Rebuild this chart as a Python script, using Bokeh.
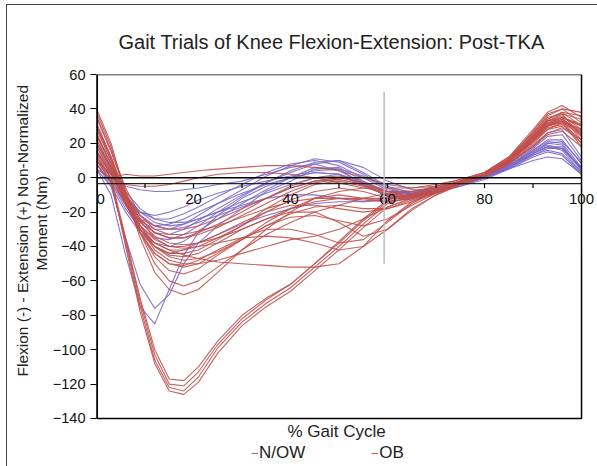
from bokeh.plotting import figure
from bokeh.models import (Range1d, Title, Legend, LegendItem, FixedTicker, ColumnDataSource)
from bokeh.embed import file_html
from bokeh.resources import INLINE

# ---------------- data ----------------
gait_pct = [0, 3, 6, 9, 12, 15, 18, 21, 25, 30, 35, 40, 45, 50, 55, 60, 65, 70, 75, 80, 85, 90, 93, 96, 100]

# N/OW trials (moment, Nm)
nw_01 = [5, -10, -45, -75, -85, -65, -45, -32, -22, -12, -5, 0, 3, 2, -5, -10, -8, -6, -3, 1, 6, 14, 18, 17, 5]
nw_02 = [8, -5, -35, -62, -76, -68, -50, -38, -28, -18, -8, -2, 5, 6, -2, -10, -9, -6, -3, 1, 7, 15, 20, 19, 4]
nw_03 = [10, 0, -5, -7, -8, -8, -7, -6, -4, -2, 2, 6, 8, 4, -3, -8, -9, -7, -4, 0, 5, 10, 12, 11, 2]
nw_04 = [15, 2, -12, -20, -24, -24, -21, -17, -11, -4, 3, 8, 10, 7, 0, -7, -9, -7, -4, 0, 6, 13, 16, 14, 3]
nw_05 = [12, 0, -15, -25, -30, -30, -27, -22, -15, -7, 1, 7, 11, 9, 2, -6, -10, -8, -5, 0, 5, 12, 15, 13, 2]
nw_06 = [20, 5, -15, -28, -35, -36, -33, -28, -20, -11, -3, 4, 9, 10, 3, -5, -9, -8, -4, 0, 6, 15, 19, 17, 5]
nw_07 = [8, -3, -18, -30, -38, -40, -37, -31, -24, -15, -7, 0, 6, 5, -4, -11, -11, -8, -4, 0, 6, 14, 18, 16, 3]
nw_08 = [25, 8, -10, -22, -28, -30, -29, -26, -22, -17, -12, -6, -2, -1, -4, -8, -9, -7, -3, 1, 7, 16, 22, 22, 8]
nw_09 = [5, -5, -20, -32, -40, -44, -42, -38, -33, -27, -22, -18, -15, -14, -14, -12, -10, -7, -3, 1, 7, 17, 24, 25, 10]
nw_10 = [18, 3, -12, -20, -22, -20, -17, -13, -9, -5, -2, 1, 4, 5, 1, -6, -8, -6, -3, 1, 7, 16, 21, 20, 6]
nw_11 = [10, -2, -16, -26, -32, -33, -30, -25, -18, -10, -3, 3, 8, 10, 6, -2, -7, -7, -4, 0, 6, 14, 18, 18, 5]
nw_12 = [22, 6, -10, -20, -26, -28, -27, -24, -20, -14, -9, -4, 0, 2, -2, -8, -10, -7, -4, 0, 6, 15, 20, 21, 9]
nw_13 = [15, 2, -14, -24, -28, -27, -24, -20, -15, -9, -4, 0, 3, 2, -4, -11, -13, -9, -5, -1, 5, 13, 17, 17, 6]
nw_14 = [30, 10, -8, -18, -24, -26, -26, -24, -20, -16, -12, -10, -10, -12, -14, -13, -10, -7, -3, 1, 8, 18, 26, 28, 12]

# OB trials (moment, Nm)
ob_01 = [12, 0, -35, -70, -100, -117, -118, -110, -95, -80, -70, -62, -50, -38, -25, -14, -10, -6, -2, 2, 10, 22, 30, 32, 18]
ob_02 = [10, -2, -38, -75, -106, -122, -124, -116, -99, -84, -73, -64, -52, -40, -27, -15, -11, -7, -2, 2, 10, 24, 33, 35, 22]
ob_03 = [14, 0, -40, -78, -108, -124, -126, -119, -102, -86, -75, -66, -54, -42, -29, -17, -12, -7, -2, 3, 12, 26, 35, 37, 24]
ob_04 = [8, -3, -36, -72, -103, -120, -121, -113, -97, -82, -71, -62, -50, -37, -24, -13, -9, -5, -1, 3, 11, 23, 31, 33, 20]
ob_05 = [5, 0, 2, 1, 1, 2, 3, 4, 5, 6, 7, 7, 6, 4, 0, -4, -6, -5, -3, 1, 8, 20, 28, 32, 25]
ob_06 = [10, 2, -4, -5, -5, -4, -2, 0, 2, 3, 3, 2, 0, -3, -6, -8, -8, -6, -3, 1, 9, 22, 30, 33, 28]
ob_07 = [20, 5, -15, -30, -38, -42, -45, -47, -49, -50, -51, -52, -52, -50, -40, -25, -14, -8, -3, 2, 10, 25, 34, 38, 30]
ob_08 = [40, 20, -10, -35, -55, -65, -68, -65, -55, -42, -30, -20, -12, -8, -6, -6, -6, -4, -1, 3, 12, 28, 38, 42, 35]
ob_09 = [38, 18, -8, -32, -50, -60, -63, -60, -52, -42, -33, -26, -20, -16, -12, -9, -8, -5, -2, 2, 11, 27, 37, 40, 32]
ob_10 = [30, 12, -12, -32, -46, -54, -56, -53, -45, -36, -28, -23, -22, -25, -28, -24, -16, -9, -3, 2, 10, 24, 32, 35, 30]
ob_11 = [25, 8, -15, -32, -44, -50, -51, -48, -42, -35, -30, -30, -33, -38, -36, -26, -15, -8, -3, 2, 10, 23, 31, 34, 26]
ob_12 = [20, 6, -14, -30, -40, -45, -46, -44, -38, -30, -24, -20, -20, -26, -34, -30, -19, -10, -4, 1, 9, 22, 30, 33, 24]
ob_13 = [28, 10, -12, -28, -38, -42, -42, -40, -35, -28, -20, -13, -8, -6, -8, -12, -12, -8, -3, 2, 10, 24, 33, 36, 28]
ob_14 = [35, 15, -8, -25, -35, -40, -41, -40, -38, -35, -34, -35, -38, -42, -40, -30, -18, -10, -4, 1, 9, 21, 29, 31, 22]
ob_15 = [22, 6, -12, -24, -32, -35, -35, -33, -29, -22, -15, -8, -3, -1, -4, -10, -12, -9, -4, 1, 9, 21, 28, 30, 20]
ob_16 = [18, 4, -12, -22, -28, -30, -30, -28, -24, -18, -12, -6, -2, 0, -3, -8, -11, -8, -4, 1, 8, 18, 25, 27, 18]
ob_17 = [32, 12, -10, -28, -40, -46, -48, -47, -43, -36, -28, -21, -17, -16, -18, -18, -14, -9, -4, 1, 9, 22, 31, 34, 27]
ob_18 = [15, 2, -14, -26, -34, -38, -39, -38, -35, -30, -24, -18, -14, -12, -12, -12, -10, -7, -3, 2, 10, 24, 33, 37, 34]
ob_19 = [26, 8, -14, -32, -44, -50, -52, -50, -44, -36, -26, -18, -12, -10, -12, -14, -12, -8, -3, 2, 11, 26, 36, 40, 38]
ob_20 = [12, 0, -16, -30, -40, -44, -44, -42, -36, -28, -18, -10, -4, -2, -5, -10, -11, -8, -4, 1, 8, 19, 26, 29, 22]
ob_21 = [36, 16, -6, -22, -30, -33, -33, -31, -28, -23, -18, -14, -12, -12, -13, -14, -12, -8, -4, 1, 9, 21, 30, 33, 26]
ob_22 = [24, 8, -10, -24, -32, -35, -35, -32, -27, -20, -12, -5, 0, 1, -3, -9, -11, -8, -4, 1, 9, 22, 31, 35, 30]
ob_23 = [30, 12, -12, -30, -42, -48, -50, -50, -48, -44, -40, -36, -34, -30, -24, -17, -12, -8, -3, 2, 10, 25, 34, 38, 36]
ob_24 = [16, 3, -15, -28, -36, -40, -40, -38, -33, -26, -20, -16, -16, -18, -20, -18, -13, -8, -3, 2, 10, 23, 32, 35, 31]

nw_trials = [nw_01, nw_02, nw_03, nw_04, nw_05, nw_06, nw_07, nw_08, nw_09, nw_10, nw_11, nw_12, nw_13, nw_14]
ob_trials = [ob_01, ob_02, ob_03, ob_04, ob_05, ob_06, ob_07, ob_08, ob_09, ob_10, ob_11, ob_12,
             ob_13, ob_14, ob_15, ob_16, ob_17, ob_18, ob_19, ob_20, ob_21, ob_22, ob_23, ob_24]

y_ticks = [-140, -120, -100, -80, -60, -40, -20, 0, 20, 40, 60]
x_tick_labels = [0, 20, 40, 60, 80, 100]
x_minor_ticks = [10, 20, 30, 40, 50, 60, 70, 80, 90]
stance_mark = 59.3
series_names = ["N/OW", "OB"]

# ---------------- styles ----------------
FONT = "Liberation Sans"
NW_COLOR = "#7B68C6"
OB_COLOR = "#C0504D"
TXT = "#222222"
X0, X1 = x_tick_labels[0], x_tick_labels[-1]
Y0, Y1 = y_ticks[0], y_ticks[-1]

# the frame runs to the right and bottom edges so that end labels, axis title and legend fit in it
p = figure(width=591, height=462, output_backend="svg", toolbar_location=None,
           x_range=Range1d(0, 103.5), y_range=Range1d(-168.5, 60),
           min_border_left=89, min_border_right=0, min_border_top=69, min_border_bottom=0,
           margin=(4, 0, 0, 6))
p.styles = {"border-left": "1.5px solid #444444", "border-top": "1.5px solid #444444"}
p.xgrid.visible = False
p.ygrid.visible = False
p.xaxis.visible = False
p.outline_line_color = None
p.background_fill_color = "white"
p.border_fill_color = "white"

p.title.text = "Gait Trials of Knee Flexion-Extension: Post-TKA"
p.title.align = "left"
p.title.offset = 22
p.title.text_font = FONT
p.title.text_font_size = "20px"
p.title.text_font_style = "normal"
p.title.text_color = TXT
p.title.standoff = 43

ya = p.yaxis[0]
ya.ticker = FixedTicker(ticks=y_ticks)
ya.minor_tick_line_color = None
ya.axis_line_color = None
ya.major_tick_line_color = "black"
ya.major_tick_line_width = 1.2
ya.major_tick_out = 6
ya.major_tick_in = 0
ya.major_label_standoff = 5
ya.major_label_text_font = FONT
ya.major_label_text_font_size = "14.5px"
ya.major_label_text_color = "#111111"

# curves
nw_renderers = []
for tr in nw_trials:
    r = p.line(gait_pct, tr, line_color=NW_COLOR, line_width=1.1, line_alpha=0.9)
    nw_renderers.append(r)
ob_renderers = []
for tr in ob_trials:
    r = p.line(gait_pct, tr, line_color=OB_COLOR, line_width=1.1, line_alpha=0.9)
    ob_renderers.append(r)

# plot-area box (value axis on the left side)
p.line([X0, X1, X1, X0, X0], [Y1, Y1, Y0, Y0, Y1], line_color="black", line_width=1.5)
p.segment(x0=[X0], y0=[Y0], x1=[X0], y1=[Y1], line_color="black", line_width=3)

# zero line and category-axis line with ticks
p.segment(x0=[X0, X0], y0=[0, -3.4], x1=[X1, X1], y1=[0, -3.4],
          line_color=["black", "#222222"], line_width=[1.5, 1.2])
p.segment(x0=x_minor_ticks, y0=[-3.4] * len(x_minor_ticks), x1=x_minor_ticks,
          y1=[-6.0] * len(x_minor_ticks), line_color="black", line_width=1.2)

# x tick labels along the zero line
aligns = ["left"] + ["center"] * (len(x_tick_labels) - 1)
xsrc = ColumnDataSource(dict(x=x_tick_labels, y=[-12.6] * len(x_tick_labels),
                             t=[str(v) for v in x_tick_labels], a=aligns))
p.text(x="x", y="y", text="t", source=xsrc, text_align="a", text_baseline="middle",
       text_font_size="15px", text_color="#111111")

# x axis title
tsrc = ColumnDataSource(dict(x=[49.5], y=[-147.5], t=["% Gait Cycle"]))
p.text(x="x", y="y", text="t", source=tsrc, text_align="center", text_baseline="middle",
       text_font_size="17px", text_color=TXT)

# stance/swing marker
p.segment(x0=[stance_mark], y0=[50], x1=[stance_mark], y1=[-50], line_color="#BBBBBB", line_width=1.5)

# y axis titles (two lines)
p.add_layout(Title(text="Moment (Nm)", align="left", offset=197, text_font=FONT, text_font_size="15.5px",
                   text_font_style="normal", text_color=TXT, standoff=0), "left")
p.add_layout(Title(text="Flexion (-) - Extension (+) Non-Normalized", align="left", offset=91,
                   text_font=FONT, text_font_size="15.5px", text_font_style="normal",
                   text_color=TXT, standoff=0), "left")

legend = Legend(items=[LegendItem(label=series_names[0], renderers=[nw_renderers[0]]),
                       LegendItem(label=series_names[1], renderers=[ob_renderers[0]])],
                orientation="horizontal", location=(155, 4),
                glyph_width=7, glyph_height=16, label_standoff=1, spacing=66,
                label_text_font=FONT, label_text_font_size="17px", label_text_color=TXT,
                border_line_color=None, background_fill_alpha=0, padding=0, margin=0)
p.add_layout(legend, "center")

open("out.html", "w").write(file_html(p, INLINE))
